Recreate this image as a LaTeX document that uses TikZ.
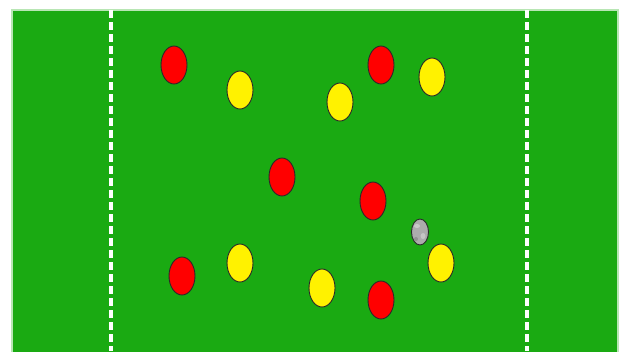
\documentclass[tikz,border=0pt]{standalone}
\usetikzlibrary{shapes.geometric}
\definecolor{pitch}{HTML}{1AAA12}
\definecolor{pitchedge}{HTML}{B8E6B4}
\definecolor{outl}{HTML}{2A2A2A}
\tikzset{
  player/.style={ellipse, draw=outl, line width=0.9pt, minimum width=26pt, minimum height=38pt, inner sep=0pt},
  redp/.style={player, fill=red},
  yelp/.style={player, fill=yellow},
  ballp/.style={ellipse, draw=outl, line width=0.9pt, fill=gray!65, minimum width=17pt, minimum height=26pt, inner sep=0pt},
  tryline/.style={white, line width=3.5pt, dash pattern=on 8pt off 4pt}
}
\begin{document}
\begin{tikzpicture}[x=1pt,y=-1pt]
\useasboundingbox (0,0) rectangle (624,351);
\fill[white] (0,0) rectangle (624,351);
\fill[pitch, draw=pitchedge, line width=1.5pt] (12,10) rectangle (618,360);
\coordinate (lt) at (111,10);
\coordinate (lb) at (111,351);
\coordinate (rt) at (527,10);
\coordinate (rb) at (527,351);
\draw[tryline] (lt) -- (lb);
\draw[tryline] (rt) -- (rb);
% red team
\node[redp] (r1) at (174,65) {};
\node[redp] (r2) at (381,65) {};
\node[redp] (r3) at (282,177) {};
\node[redp] (r4) at (373,201) {};
\node[redp] (r5) at (182,276) {};
\node[redp] (r6) at (381,300) {};
% yellow team
\node[yelp] (y1) at (240,90) {};
\node[yelp] (y2) at (340,102) {};
\node[yelp] (y3) at (432,77) {};
\node[yelp] (y4) at (240,263) {};
\node[yelp] (y5) at (322,288) {};
\node[yelp] (y6) at (441,263) {};
% ball
\node[ballp] (ball) at (420,232) {};
\fill[white, opacity=0.35] (417,226) ellipse (3pt and 2pt);
\fill[white, opacity=0.3] (423,236) ellipse (2.5pt and 3pt);
\fill[gray!30!black, opacity=0.2] (416,239) ellipse (2pt and 2pt);
\end{tikzpicture}
\end{document}
